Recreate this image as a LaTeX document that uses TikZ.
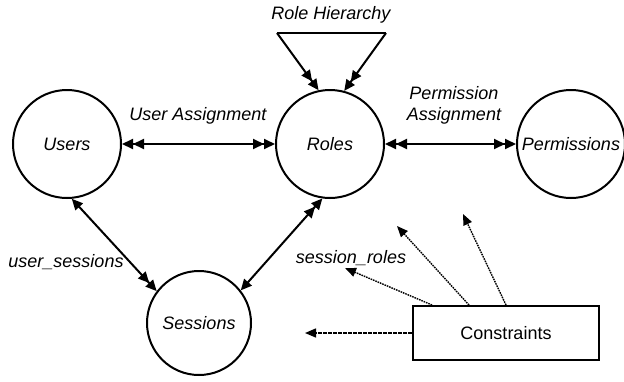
\documentclass[tikz,border=0pt]{standalone}
\usepackage{fontspec}
\setmainfont{Liberation Sans}
\usetikzlibrary{arrows.meta}
\begin{document}
\begin{tikzpicture}[x=1pt,y=-1pt,
  ent/.style={circle,draw,line width=2pt,minimum size=108pt,inner sep=0pt,font=\fontsize{18}{21}\selectfont\itshape},
  lbl/.style={font=\fontsize{18}{21}\selectfont\itshape,inner sep=0pt,align=center},
  conn/.style={line width=2pt,>={Triangle[length=11pt,width=10pt]}},
  cons/.style={line width=1.4pt,dash pattern=on 1.6pt off 0.9pt,-{Triangle[length=11pt,width=9pt]}},
  box/.style={draw,line width=2pt,minimum width=186pt,minimum height=54pt,inner sep=0pt,font=\fontsize{18}{21}\selectfont}
]
\useasboundingbox (0,0) rectangle (624,381);
\node[ent] (users) at (67,144) {Users};
\node[ent] (roles) at (330,144) {Roles};
\node[ent] (perms) at (571,144) {Permissions};
\node[ent,minimum size=104pt] (sess) at (199,323) {Sessions};
\node[box] (cons) at (506,333) {Constraints};

\node[lbl] (rhl) at (331,15) {Role Hierarchy};
\node[lbl] (ual) at (198,116) {User Assignment};
\node[lbl] (pal) at (454,105) {Permission\\[0pt]Assignment};
\node[lbl] (usl) at (66,262) {user\_sessions};
\node[lbl] (srl) at (351,258) {session\_roles};

\draw[conn,<<->>] (users) -- (roles);
\draw[conn,<<->>] (roles) -- (perms);

\coordinate (rhL) at (277,33);
\coordinate (rhR) at (386,33);
\draw[conn] (rhL) -- (rhR);
\draw[conn,->>] (rhL) -- (roles.102);
\draw[conn,->>] (rhR) -- (roles.75);

\draw[conn,<->>] (users.-85) -- (sess.143);
\draw[conn,<<->] (roles.-98) -- (sess.38);

\coordinate (t1) at (345,268);
\coordinate (t2) at (397,226);
\coordinate (t3) at (463,214);
\coordinate (t4) at (305,333);
\draw[cons] ([xshift=20pt]cons.north west) -- (t1);
\draw[cons] ([xshift=57pt]cons.north west) -- (t2);
\draw[cons] ([xshift=94pt]cons.north west) -- (t3);
\draw[cons] (cons.west) -- (t4);
\end{tikzpicture}
\end{document}
